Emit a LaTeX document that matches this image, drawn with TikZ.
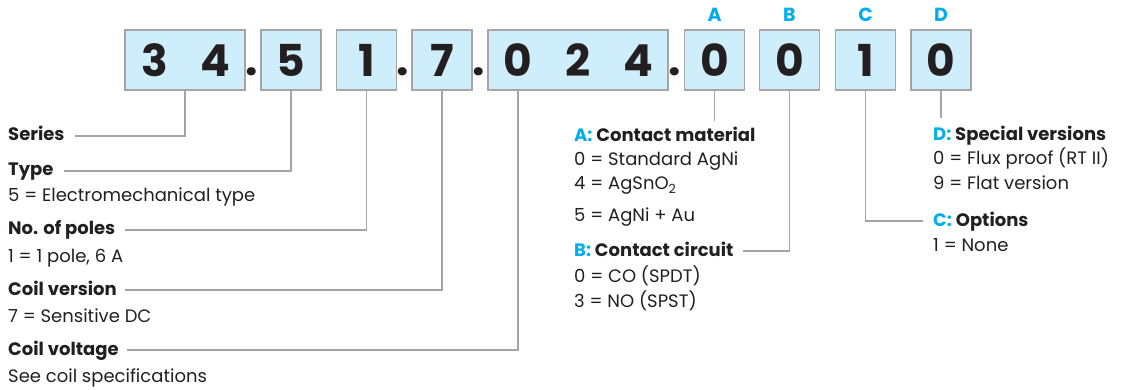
\documentclass[tikz,border=0pt]{standalone}
\usepackage{fontspec}
\setmainfont{Poppins}
\definecolor{keyblue}{HTML}{00AEEF}
\definecolor{boxfill}{HTML}{CDEEFA}
\definecolor{rulegray}{HTML}{A5A5A5}
\definecolor{ink}{HTML}{231F20}

\begin{document}
\begin{tikzpicture}[x=1pt,y=-1pt]
    \tikzstyle{every node}+=[inner sep=0pt, text=ink]
    \tikzstyle{digitbox}=[draw=rulegray, line width=1.2pt, fill=boxfill, minimum width=60pt, minimum height=60pt, font=\fontsize{44}{44}\selectfont\bfseries]
    \tikzstyle{dotmark}=[anchor=base, font=\fontsize{44}{44}\selectfont\bfseries]
    \tikzstyle{keyletter}=[anchor=base, text=keyblue, font=\fontsize{19}{20}\selectfont\bfseries]
    \tikzstyle{head}=[anchor=base west, font=\fontsize{18}{20}\selectfont\bfseries]
    \tikzstyle{entry}=[anchor=base west, font=\fontsize{18}{20}\selectfont]
    \tikzstyle{lead}=[draw=rulegray, line width=1.3pt]
    \useasboundingbox (0,0) rectangle (1125,390);
    % code boxes
    \node [digitbox, minimum width=120pt] (b34) at (185,60) {\makebox[60pt]{3}\makebox[60pt]{4}};
    \node [digitbox] (b5) at (291,60) {5};
    \node [digitbox] (b1) at (366.5,60) {1};
    \node [digitbox] (b7) at (442,60) {7};
    \node [digitbox, minimum width=180pt] (b024) at (578,60) {\makebox[60pt]{0}\makebox[60pt]{2}\makebox[60pt]{4}};
    \node [digitbox] (bA) at (714.5,60) {0};
    \node [digitbox] (bB) at (789.5,60) {0};
    \node [digitbox] (bC) at (865.5,60) {1};
    \node [digitbox] (bD) at (941,60) {0};
    \node [dotmark] (dot1) at (252,76) {.};
    \node [dotmark] (dot2) at (403,76) {.};
    \node [dotmark] (dot3) at (479,76) {.};
    \node [dotmark] (dot4) at (675,76) {.};
    \node [keyletter] (kA) at (714.5,22) {A};
    \node [keyletter] (kB) at (789.5,22) {B};
    \node [keyletter] (kC) at (865.5,22) {C};
    \node [keyletter] (kD) at (941,22) {D};
    % left legend
    \node [head] (series) at (8,141) {Series};
    \node [head] (type) at (8,176) {Type};
    \node [entry] (typeval) at (8,202) {5 = Electromechanical type};
    \node [head] (poles) at (8,235) {No. of poles};
    \node [entry] (polesval) at (8,262) {1 = 1 pole, 6 A};
    \node [head] (coilver) at (8,295) {Coil version};
    \node [entry] (coilverval) at (8,322) {7 = Sensitive DC};
    \node [head] (coilvolt) at (8,355) {Coil voltage};
    \node [entry] (coilvoltval) at (8,382) {See coil specifications};
    % right legend
    \node [head] (matA) at (574,142) {\textcolor{keyblue}{A:} Contact material};
    \node [entry] (matA0) at (574,166) {0 = Standard AgNi};
    \node [entry] (matA4) at (574,190) {4 = AgSnO\textsubscript{2}};
    \node [entry] (matA5) at (574,222) {5 = AgNi + Au};
    \node [head] (circB) at (574,257) {\textcolor{keyblue}{B:} Contact circuit};
    \node [entry] (circB0) at (574,283) {0 = CO (SPDT)};
    \node [entry] (circB3) at (574,308) {3 = NO (SPST)};
    \node [head] (verD) at (933,141) {\textcolor{keyblue}{D:} Special versions};
    \node [entry] (verD0) at (933,165) {0 = Flux proof (RT II)};
    \node [entry] (verD9) at (933,190) {9 = Flat version};
    \node [head] (optC) at (933,227) {\textcolor{keyblue}{C:} Options};
    \node [entry] (optC1) at (933,252) {1 = None};
    % leaders
    \coordinate (endA) at (714.5,121);
    \coordinate (endD) at (941,118);
    \draw [lead] (b34.south) |- ([xshift=10pt,yshift=5pt]series.base east);
    \draw [lead] (b5.south) |- ([xshift=10pt,yshift=5pt]type.base east);
    \draw [lead] (b1.south) |- ([xshift=10pt,yshift=5pt]poles.base east);
    \draw [lead] (b7.south) |- ([xshift=8pt,yshift=5pt]coilver.base east);
    \draw [lead] ([xshift=-60pt]b024.south) |- ([xshift=8pt,yshift=5pt]coilvolt.base east);
    \draw [lead] (bA.south) -- (endA);
    \draw [lead] (bB.south) |- ([xshift=9pt,yshift=6pt]circB.base east);
    \draw [lead] (bC.south) |- ([xshift=-10pt,yshift=6pt]optC.base west);
    \draw [lead] (bD.south) -- (endD);
\end{tikzpicture}
\end{document}
